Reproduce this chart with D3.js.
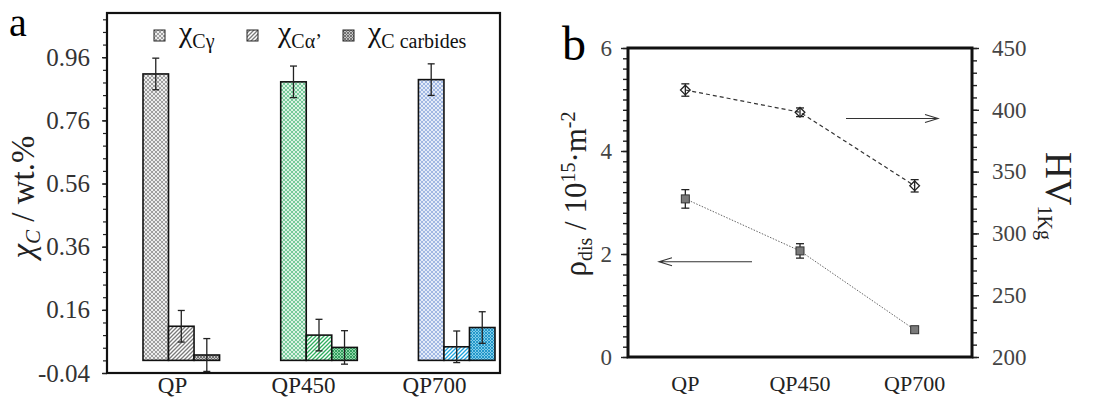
<!DOCTYPE html>
<html>
<head>
<meta charset="utf-8">
<script src="https://cdn.jsdelivr.net/npm/d3@7"></script>
<style>
  body { margin: 0; background: #fff; }
</style>
</head>
<body>
<div class="chart"></div>
<script>
// ---- data ----
var categories = ["QP", "QP450", "QP700"];
var seriesKeys = ["gamma", "alpha", "carb"];

var gammaC   = [0.907, 0.882, 0.889];
var gammaErr = [0.05, 0.05, 0.05];
var alphaC   = [0.108, 0.080, 0.043];
var alphaErr = [0.05, 0.05, 0.05];
var carbC    = [0.017, 0.041, 0.104];
var carbErr  = [0.052, 0.053, 0.05];

var hv     = [416, 398, 338.5];
var hvErr  = [5, 3.5, 5];
var rho    = [3.07, 2.06, 0.53];
var rhoErr = [0.18, 0.14, 0.05];

var aMajor = [-0.04, 0.16, 0.36, 0.56, 0.76, 0.96];
var aMinor = d3.range(0, 29).map(i => -0.04 + i * 0.04);
var bLeftMajor = [0, 2, 4, 6];
var bLeftMinor = d3.range(0, 31).map(i => i * 0.2);
var bRightMajor = [200, 250, 300, 350, 400, 450];
var bRightMinor = d3.range(200, 451, 10);

var FONT = "'Liberation Serif', 'Times New Roman', serif";

// colours per category (bg, line) for each series pattern
var palette = {
  QP:    { gamma: ["#ececec", "#8a8a8a"], alpha: ["#ffffff", "#7a7a7a"], carb: ["#c4c4c4", "#6a6a6a"] },
  QP450: { gamma: ["#dcf2e3", "#5cc088"], alpha: ["#ffffff", "#2fae5e"], carb: ["#93d8ab", "#2a9a58"] },
  QP700: { gamma: ["#e4ebf8", "#8fa9dd"], alpha: ["#ffffff", "#1ea5de"], carb: ["#80cdea", "#1b92c6"] }
};

var svg = d3.select(".chart")
  .append("svg")
  .attr("width", 1101)
  .attr("height", 400)
  .style("font-family", FONT);

var defs = svg.append("defs");

function makePattern(id, kind, bg, line) {
  var s = kind == "carb" ? 3 : 4;
  var p = defs.append("pattern")
    .attr("id", id)
    .attr("patternUnits", "userSpaceOnUse")
    .attr("width", s)
    .attr("height", s);
  p.append("rect").attr("width", s).attr("height", s).attr("fill", bg);
  if (kind == "alpha") {
    p.append("path")
      .attr("d", "M-1,1 L1,-1 M0,4 L4,0 M3,5 L5,3")
      .attr("stroke", line).attr("stroke-width", 1.3);
  } else {
    p.append("path")
      .attr("d", `M0,0 L${s},${s} M${s},0 L0,${s}`)
      .attr("stroke", line).attr("stroke-width", kind == "carb" ? 0.9 : 0.8);
  }
}
categories.forEach(function(c) {
  seriesKeys.forEach(function(k) {
    makePattern(`pat-${c}-${k}`, k, palette[c][k][0], palette[c][k][1]);
  });
});

function styleText(g, size, color) {
  g.selectAll("text")
    .style("font-size", size + "px")
    .style("font-family", FONT)
    .attr("fill", color);
}

// ================= panel a =================
var aLeft = 107, aRight = 500, aTop = 13, aBottom = 373;

var yA = d3.scaleLinear().domain([-0.04, 1.1]).range([aBottom, aTop]);
var xALabel = d3.scaleBand().domain(categories).range([aLeft, aRight]);
var xA0 = d3.scaleBand().domain(categories).range([143, 495]).paddingInner(0.444).paddingOuter(0);
var xA1 = d3.scaleBand().domain(seriesKeys).range([0, xA0.bandwidth()]);

var barData = [];
categories.forEach(function(c, i) {
  barData.push({ cat: c, key: "gamma", v: gammaC[i], e: gammaErr[i] });
  barData.push({ cat: c, key: "alpha", v: alphaC[i], e: alphaErr[i] });
  barData.push({ cat: c, key: "carb",  v: carbC[i],  e: carbErr[i] });
});

var gA = svg.append("g");

// minor ticks
gA.append("g")
  .attr("transform", `translate(${aLeft},0)`)
  .call(d3.axisLeft(yA).tickValues(aMinor).tickSize(4).tickFormat(""))
  .call(g => g.select(".domain").remove())
  .call(g => g.selectAll("line").attr("stroke", "#222").attr("stroke-width", 1.2));

gA.append("g")
  .attr("transform", `translate(${aLeft},0)`)
  .call(d3.axisLeft(yA).tickValues(aMajor).tickSize(5).tickPadding(12).tickFormat(d => d.toFixed(2)))
  .call(g => g.select(".domain").remove())
  .call(g => g.selectAll("line").attr("stroke", "#222").attr("stroke-width", 1.4))
  .call(g => styleText(g, 25, "#333"));

gA.append("g")
  .attr("transform", `translate(0,${aBottom})`)
  .call(d3.axisBottom(xALabel).tickSize(0).tickPadding(4))
  .call(g => g.select(".domain").remove())
  .call(g => styleText(g, 23, "#222"));

// bars
gA.selectAll("rect.bar")
  .data(barData)
  .enter()
  .append("rect")
  .attr("class", "bar")
  .attr("x", d => xA0(d.cat) + xA1(d.key))
  .attr("width", xA1.bandwidth())
  .attr("y", d => yA(d.v))
  .attr("height", d => yA(0) - yA(d.v))
  .attr("fill", d => `url(#pat-${d.cat}-${d.key})`)
  .attr("stroke", "#111")
  .attr("stroke-width", 1.6);

// error bars
var errA = gA.selectAll("g.err")
  .data(barData)
  .enter()
  .append("g")
  .attr("class", "err")
  .attr("stroke", "#222")
  .attr("stroke-width", 1.3);
errA.append("line")
  .attr("x1", d => xA0(d.cat) + xA1(d.key) + xA1.bandwidth() / 2)
  .attr("x2", d => xA0(d.cat) + xA1(d.key) + xA1.bandwidth() / 2)
  .attr("y1", d => yA(d.v + d.e))
  .attr("y2", d => yA(d.v - d.e));
[1, -1].forEach(function(s) {
  errA.append("line")
    .attr("x1", d => xA0(d.cat) + xA1(d.key) + xA1.bandwidth() / 2 - 3.5)
    .attr("x2", d => xA0(d.cat) + xA1(d.key) + xA1.bandwidth() / 2 + 3.5)
    .attr("y1", d => yA(d.v + s * d.e))
    .attr("y2", d => yA(d.v + s * d.e));
});

// frame
gA.append("rect")
  .attr("x", aLeft).attr("y", aTop)
  .attr("width", aRight - aLeft).attr("height", aBottom - aTop)
  .attr("fill", "none").attr("stroke", "#111").attr("stroke-width", 2.2);

// legend
var legendItems = [
  { key: "gamma", x: 154, sub: "Cγ" },
  { key: "alpha", x: 247, sub: "Cα’" },
  { key: "carb",  x: 343, sub: "C carbides" }
];
legendItems.forEach(function(d) {
  gA.append("rect")
    .attr("x", d.x).attr("y", 30).attr("width", 11).attr("height", 11)
    .attr("fill", `url(#pat-QP-${d.key})`)
    .attr("stroke", "#222").attr("stroke-width", 1);
  var t = gA.append("text")
    .attr("x", d.x + (d.key == "alpha" ? 31 : 25)).attr("y", 42)
    .attr("fill", "#111")
    .style("font-size", "30px");
  t.append("tspan").text("χ");
  t.append("tspan").attr("dy", 6).style("font-size", "20px").text(d.sub);
});

// y title
var yTitleA = gA.append("text")
  .attr("transform", "translate(34,197) rotate(-90)")
  .attr("text-anchor", "middle")
  .attr("fill", "#222")
  .style("font-size", "33px");
yTitleA.append("tspan").style("font-style", "italic").text("χ");
yTitleA.append("tspan").attr("dy", 6).style("font-size", "21px").style("font-style", "italic").text("C");
yTitleA.append("tspan").attr("dy", -6).text(" / wt.%");

svg.append("text").attr("x", 9).attr("y", 36).style("font-size", "40px").attr("fill", "#000").text("a");

// ================= panel b =================
var bLeft = 628, bRight = 972, bTop = 48, bBottom = 357;

var xB = d3.scaleBand().domain(categories).range([bLeft, bRight]);
var yL = d3.scaleLinear().domain([0, 6]).range([bBottom, bTop]);
var yR = d3.scaleLinear().domain([200, 450]).range([bBottom, bTop]);

var gB = svg.append("g");

gB.append("g")
  .attr("transform", `translate(${bLeft},0)`)
  .call(d3.axisLeft(yL).tickValues(bLeftMinor).tickSize(5).tickFormat(""))
  .call(g => g.select(".domain").remove())
  .call(g => g.selectAll("line").attr("stroke", "#222").attr("stroke-width", 1.4));
gB.append("g")
  .attr("transform", `translate(${bLeft},0)`)
  .call(d3.axisLeft(yL).tickValues(bLeftMajor).tickSize(7).tickPadding(9).tickFormat(d3.format("d")))
  .call(g => g.select(".domain").remove())
  .call(g => g.selectAll("line").attr("stroke", "#222").attr("stroke-width", 1.4))
  .call(g => styleText(g, 23, "#444"));

gB.append("g")
  .attr("transform", `translate(${bRight},0)`)
  .call(d3.axisRight(yR).tickValues(bRightMinor).tickSize(5).tickFormat(""))
  .call(g => g.select(".domain").remove())
  .call(g => g.selectAll("line").attr("stroke", "#222").attr("stroke-width", 1.4));
gB.append("g")
  .attr("transform", `translate(${bRight},0)`)
  .call(d3.axisRight(yR).tickValues(bRightMajor).tickSize(7).tickPadding(13).tickFormat(d3.format("d")))
  .call(g => g.select(".domain").remove())
  .call(g => g.selectAll("line").attr("stroke", "#222").attr("stroke-width", 1.4))
  .call(g => styleText(g, 23, "#444"));

gB.append("g")
  .attr("transform", `translate(0,${bBottom})`)
  .call(d3.axisBottom(xB).tickSize(0).tickPadding(18))
  .call(g => g.select(".domain").remove())
  .call(g => styleText(g, 22, "#222"));

// HV line (dashed) and rho line (dotted)
var hvLine = d3.line().x((d, i) => xB(categories[i]) + xB.bandwidth() / 2).y(d => yR(d));
var rhoLine = d3.line().x((d, i) => xB(categories[i]) + xB.bandwidth() / 2).y(d => yL(d));

gB.append("path").datum(hv).attr("d", hvLine)
  .attr("fill", "none").attr("stroke", "#333").attr("stroke-width", 1.2).attr("stroke-dasharray", "4,3");
gB.append("path").datum(rho).attr("d", rhoLine)
  .attr("fill", "none").attr("stroke", "#666").attr("stroke-width", 1).attr("stroke-dasharray", "1.5,1.5");

function errBars(vals, errs, scale) {
  var g = gB.append("g").attr("stroke", "#222").attr("stroke-width", 1.3);
  vals.forEach(function(v, i) {
    var cx = xB(categories[i]) + xB.bandwidth() / 2;
    g.append("line").attr("x1", cx).attr("x2", cx).attr("y1", scale(v + errs[i])).attr("y2", scale(v - errs[i]));
    g.append("line").attr("x1", cx - 4).attr("x2", cx + 4).attr("y1", scale(v + errs[i])).attr("y2", scale(v + errs[i]));
    g.append("line").attr("x1", cx - 4).attr("x2", cx + 4).attr("y1", scale(v - errs[i])).attr("y2", scale(v - errs[i]));
  });
}
errBars(hv, hvErr, yR);
errBars(rho, rhoErr, yL);

// markers
gB.selectAll("path.dia")
  .data(hv)
  .enter()
  .append("path")
  .attr("class", "dia")
  .attr("d", d3.symbol(d3.symbolDiamond2, 60))
  .attr("transform", (d, i) => `translate(${xB(categories[i]) + xB.bandwidth() / 2},${yR(d)})`)
  .attr("fill", "none").attr("stroke", "#222").attr("stroke-width", 1.3);

gB.selectAll("rect.sq")
  .data(rho)
  .enter()
  .append("rect")
  .attr("class", "sq")
  .attr("x", (d, i) => xB(categories[i]) + xB.bandwidth() / 2 - 4)
  .attr("y", d => yL(d) - 4)
  .attr("width", 8).attr("height", 8)
  .attr("fill", "#7a7a7a").attr("stroke", "#333").attr("stroke-width", 1);

// direction arrows
function arrow(x1, x2, y) {
  var dir = x2 > x1 ? 1 : -1;
  gB.append("path")
    .attr("d", `M${x1},${y} L${x2},${y} M${x2 - dir * 13},${y - 4} L${x2},${y} L${x2 - dir * 13},${y + 4}`)
    .attr("fill", "none").attr("stroke", "#333").attr("stroke-width", 1.1);
}
arrow(846, 938, yR(393));
arrow(752, 659, yL(1.85));

// frame
gB.append("rect")
  .attr("x", bLeft).attr("y", bTop)
  .attr("width", bRight - bLeft).attr("height", bBottom - bTop)
  .attr("fill", "none").attr("stroke", "#111").attr("stroke-width", 3);

// axis titles
var yTitleL = gB.append("text")
  .attr("transform", "translate(586,194) rotate(-90)")
  .attr("text-anchor", "middle")
  .attr("fill", "#222")
  .style("font-size", "31px");
yTitleL.append("tspan").text("ρ");
yTitleL.append("tspan").attr("dy", 6).style("font-size", "20px").text("dis");
yTitleL.append("tspan").attr("dy", -6).text(" / 10");
yTitleL.append("tspan").attr("dy", -11).style("font-size", "20px").text("15");
yTitleL.append("tspan").attr("dy", 11).text("·m");
yTitleL.append("tspan").attr("dy", -11).style("font-size", "20px").text("-2");

var yTitleR = gB.append("text")
  .attr("transform", "translate(1046,152) rotate(90)")
  .attr("fill", "#222")
  .style("font-size", "37px");
yTitleR.append("tspan").text("HV");
yTitleR.append("tspan").attr("dy", 8).style("font-size", "20px").text("1Kg");

svg.append("text").attr("x", 562).attr("y", 60).style("font-size", "48px").attr("fill", "#000").text("b");
</script>
</body>
</html>
